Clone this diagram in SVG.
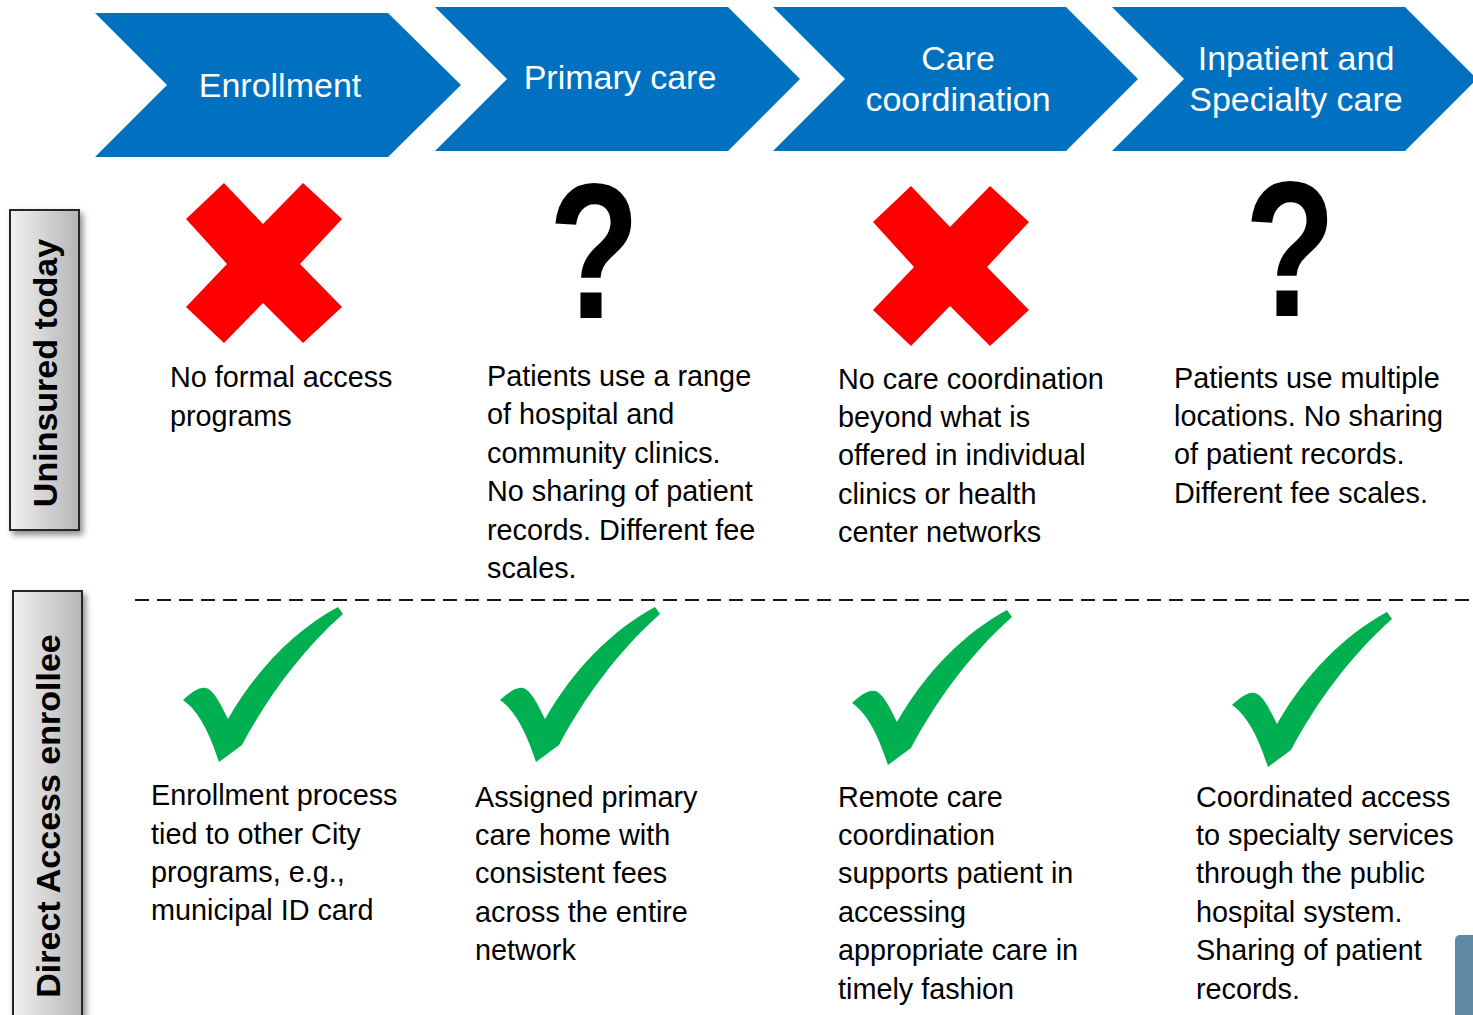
<svg xmlns="http://www.w3.org/2000/svg" width="1473" height="1015" viewBox="0 0 1473 1015">
<defs>
<style>
.chev{fill:#0070c0}
.ct{font-family:"Liberation Sans",Arial,sans-serif;font-size:34px;fill:#fff;text-anchor:middle}
.bt{font-family:"Liberation Sans",Arial,sans-serif;font-size:28.8px;fill:#000}
.vl{font-family:"Liberation Sans",Arial,sans-serif;font-size:34px;font-weight:bold;fill:#000;text-anchor:middle}
.box{fill:url(#g);stroke:#262626;stroke-width:2}
.x{fill:#ff0000}
.q{font-family:"Liberation Sans",Arial,sans-serif;font-weight:bold;font-size:194px;fill:#000;text-anchor:middle}
.ck{fill:#00b050}
</style>
<linearGradient id="g" x1="0" y1="0" x2="1" y2="0">
<stop offset="0" stop-color="#f2f2f2"/>
<stop offset="1" stop-color="#b5b5b5"/>
</linearGradient>
<filter id="sh" x="-30%" y="-10%" width="160%" height="120%">
<feDropShadow dx="3" dy="4" stdDeviation="3" flood-color="#000" flood-opacity="0.45"/>
</filter>
<polygon id="xm" points="186,219 224,183 263,224 303,183 342,219 300,264 342,307 303,343 263,303 224,343 186,307 227,264"/>
<path id="cm" d="M183,700 C192,692 199,687 206,688 C214,690 221,705 228,719 C256,670 295,630 338,607 L343,614 C300,652 266,700 242,745 L219,762 C210,735 200,712 183,700 Z"/>
</defs>
<rect width="1473" height="1015" fill="#fff"/>

<g id="chevron-enrollment">
<polygon class="chev" points="95,13 388,13 461,85 388,157 95,157 167,85"/>
<text class="ct" x="280" y="97">Enrollment</text>
</g>
<g id="chevron-primary">
<polygon class="chev" points="435,7 728,7 800,79 728,151 435,151 507,79"/>
<text class="ct" x="620" y="89">Primary care</text>
</g>
<g id="chevron-coordination">
<polygon class="chev" points="773,7 1066,7 1138,79 1066,151 773,151 845,79"/>
<text class="ct" x="958" y="70">Care</text>
<text class="ct" x="958" y="111">coordination</text>
</g>
<g id="chevron-inpatient">
<polygon class="chev" points="1112,7 1405,7 1477,79 1405,151 1112,151 1184,79"/>
<text class="ct" x="1296" y="70">Inpatient and</text>
<text class="ct" x="1296" y="111">Specialty care</text>
</g>

<g id="label-uninsured">
<rect class="box" x="10" y="210" width="69" height="320" filter="url(#sh)"/>
<text class="vl" transform="translate(57,373) rotate(-90)">Uninsured today</text>
</g>
<g id="label-direct">
<rect class="box" x="13" y="591" width="69" height="440" filter="url(#sh)"/>
<text class="vl" transform="translate(60,816) rotate(-90)">Direct Access enrollee</text>
</g>

<g id="connectors">
<line x1="135" y1="600" x2="1473" y2="600" stroke="#1a1a1a" stroke-width="2" stroke-dasharray="14 8"/>
</g>

<g id="uninsured-enrollment">
<use href="#xm" class="x"/>
<text class="bt" x="170" y="387">No formal access</text>
<text class="bt" x="170" y="426">programs</text>
</g>
<g id="uninsured-primary">
<text class="q" transform="translate(594,318) scale(0.77,1)">?</text>
<text class="bt" x="487" y="386">Patients use a range</text>
<text class="bt" x="487" y="424">of hospital and</text>
<text class="bt" x="487" y="463">community clinics.</text>
<text class="bt" x="487" y="501">No sharing of patient</text>
<text class="bt" x="487" y="540">records. Different fee</text>
<text class="bt" x="487" y="578">scales.</text>
</g>
<g id="uninsured-coordination">
<use href="#xm" class="x" transform="translate(687,3)"/>
<text class="bt" x="838" y="389">No care coordination</text>
<text class="bt" x="838" y="427">beyond what is</text>
<text class="bt" x="838" y="465">offered in individual</text>
<text class="bt" x="838" y="504">clinics or health</text>
<text class="bt" x="838" y="542">center networks</text>
</g>
<g id="uninsured-inpatient">
<text class="q" transform="translate(1290,316) scale(0.77,1)">?</text>
<text class="bt" x="1174" y="388">Patients use multiple</text>
<text class="bt" x="1174" y="426">locations. No sharing</text>
<text class="bt" x="1174" y="464">of patient records.</text>
<text class="bt" x="1174" y="503">Different fee scales.</text>
</g>

<g id="direct-enrollment">
<use href="#cm" class="ck"/>
<text class="bt" x="151" y="805">Enrollment process</text>
<text class="bt" x="151" y="844">tied to other City</text>
<text class="bt" x="151" y="882">programs, e.g.,</text>
<text class="bt" x="151" y="920">municipal ID card</text>
</g>
<g id="direct-primary">
<use href="#cm" class="ck" transform="translate(317,0)"/>
<text class="bt" x="475" y="807">Assigned primary</text>
<text class="bt" x="475" y="845">care home with</text>
<text class="bt" x="475" y="883">consistent fees</text>
<text class="bt" x="475" y="922">across the entire</text>
<text class="bt" x="475" y="960">network</text>
</g>
<g id="direct-coordination">
<use href="#cm" class="ck" transform="translate(669,3)"/>
<text class="bt" x="838" y="807">Remote care</text>
<text class="bt" x="838" y="845">coordination</text>
<text class="bt" x="838" y="883">supports patient in</text>
<text class="bt" x="838" y="922">accessing</text>
<text class="bt" x="838" y="960">appropriate care in</text>
<text class="bt" x="838" y="999">timely fashion</text>
</g>
<g id="direct-inpatient">
<use href="#cm" class="ck" transform="translate(1049,5)"/>
<text class="bt" x="1196" y="807">Coordinated access</text>
<text class="bt" x="1196" y="845">to specialty services</text>
<text class="bt" x="1196" y="883">through the public</text>
<text class="bt" x="1196" y="922">hospital system.</text>
<text class="bt" x="1196" y="960">Sharing of patient</text>
<text class="bt" x="1196" y="999">records.</text>
</g>

<g id="edge-tab">
<rect x="1455" y="935" width="30" height="100" rx="5" fill="#5e88a3"/>
</g>
</svg>
